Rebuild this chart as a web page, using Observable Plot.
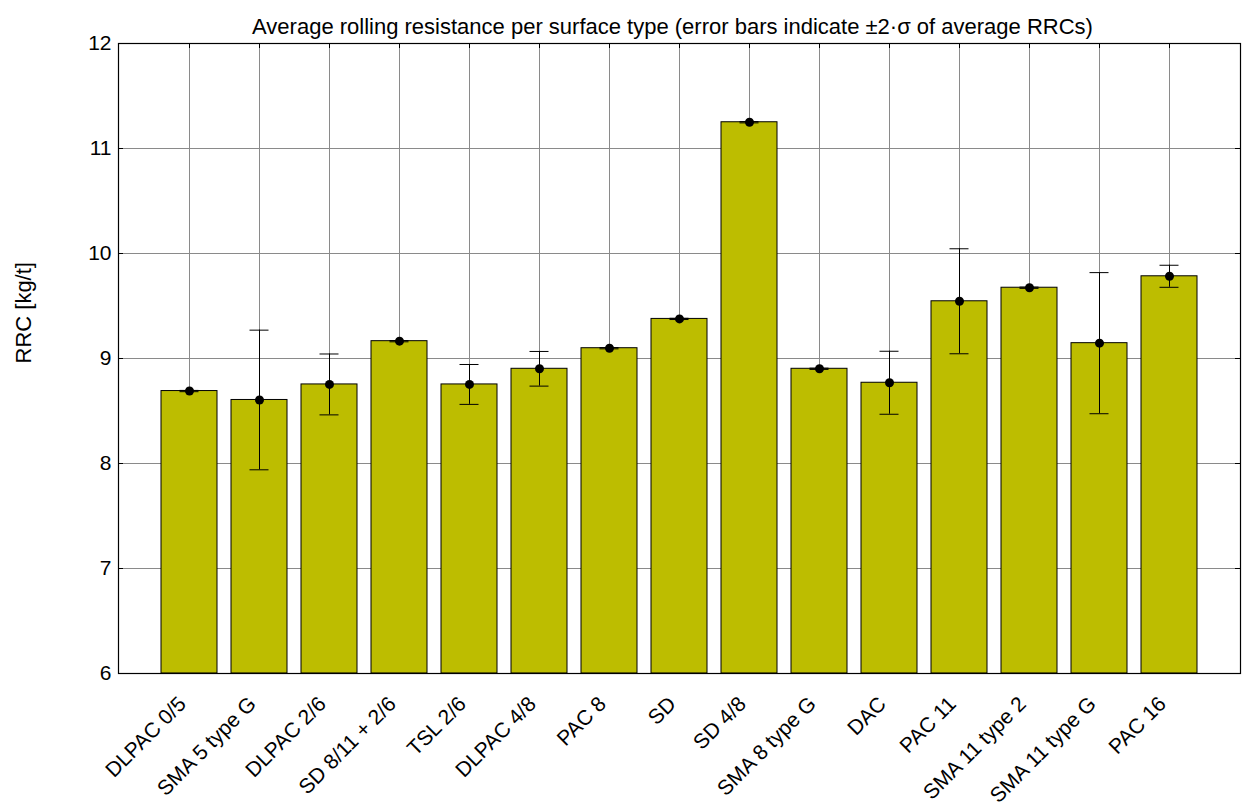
<!DOCTYPE html>
<html>
<head>
<meta charset="utf-8">
<script src="https://cdn.jsdelivr.net/npm/d3@7"></script>
<script src="https://cdn.jsdelivr.net/npm/@observablehq/plot@0.6"></script>
<style>
  html, body { margin: 0; padding: 0; background: #fff; }
  svg { display: block; }
</style>
</head>
<body>
<div id="chart"></div>
<script>
const categories = ["DLPAC 0/5","SMA 5 type G","DLPAC 2/6","SD 8/11 + 2/6","TSL 2/6","DLPAC 4/8","PAC 8","SD","SD 4/8","SMA 8 type G","DAC","PAC 11","SMA 11 type 2","SMA 11 type G","PAC 16"];
const means = [8.69, 8.605, 8.753, 9.165, 8.753, 8.902, 9.098, 9.377, 11.25, 8.902, 8.769, 9.545, 9.674, 9.146, 9.783];
const errs  = [0.006, 0.665, 0.29, 0.006, 0.19, 0.165, 0.006, 0.006, 0.006, 0.006, 0.30, 0.5, 0.006, 0.672, 0.105];
const yTicks = [6, 7, 8, 9, 10, 11, 12];
const titleText = "Average rolling resistance per surface type (error bars indicate \u00B12\u00B7\u03C3 of average RRCs)";
const yLabel = "RRC [kg/t]";

const data = categories.map((c, i) => ({cat: c, mean: means[i], err: errs[i]}));

const W = 1242, H = 807;
const mL = 118, mR = 2, mT = 43, mB = 134;
const plotW = W - mL - mR, plotH = H - mT - mB;
const font = "'Liberation Sans', Arial, Helvetica, sans-serif";
const gridColor = "#8a8a8a";

const chart = Plot.plot({
  width: W,
  height: H,
  marginLeft: mL, marginRight: mR, marginTop: mT, marginBottom: mB,
  style: {fontFamily: font, fontSize: "21px", background: "#fff", color: "#000"},
  x: {type: "band", domain: categories, paddingInner: 0.2, paddingOuter: 0.6, align: 0.5, axis: null},
  y: {domain: [6, 12], axis: null},
  marks: [
    Plot.ruleY(yTicks, {y: d => d, stroke: gridColor, strokeWidth: 1}),
    Plot.ruleX(categories, {x: d => d, stroke: gridColor, strokeWidth: 1}),
    Plot.barY(data, {x: "cat", y1: 6, y2: "mean", fill: "#bdbd00", stroke: "#000", strokeWidth: 1}),
    Plot.ruleX(data, {x: "cat", y1: d => d.mean - d.err, y2: d => d.mean + d.err, stroke: "#000", strokeWidth: 1}),
    Plot.tickY(data, {x: "cat", y: d => d.mean + d.err, stroke: "#000", strokeWidth: 1, insetLeft: 18.5, insetRight: 18.5}),
    Plot.tickY(data, {x: "cat", y: d => d.mean - d.err, stroke: "#000", strokeWidth: 1, insetLeft: 18.5, insetRight: 18.5}),
    Plot.dot(data, {x: "cat", y: "mean", r: 4.5, fill: "#000", stroke: null}),
    Plot.frame({stroke: "#000", strokeWidth: 1.2}),
    Plot.tickY(yTicks, {y: d => d, insetRight: plotW - 5, stroke: "#000"}),
    Plot.tickY(yTicks, {y: d => d, insetLeft: plotW - 5, stroke: "#000"}),
    Plot.tickX(categories, {x: d => d, insetBottom: plotH - 5, stroke: "#000"}),
    Plot.axisY(yTicks, {tickSize: 0, tickPadding: 7, tickFormat: d3.format("d"), label: null, fontSize: 21}),
    Plot.text(categories, {x: d => d, frameAnchor: "bottom", rotate: -45, textAnchor: "end", lineAnchor: "middle", dx: -7, dy: 27, fontSize: 21}),
    Plot.text([yLabel], {frameAnchor: "left", rotate: -90, dx: -95, dy: 5, fontSize: 22}),
    Plot.text([titleText], {frameAnchor: "top", dy: -25, dx: -7, fontSize: 22})
  ]
});
document.getElementById("chart").appendChild(chart);
</script>
</body>
</html>
